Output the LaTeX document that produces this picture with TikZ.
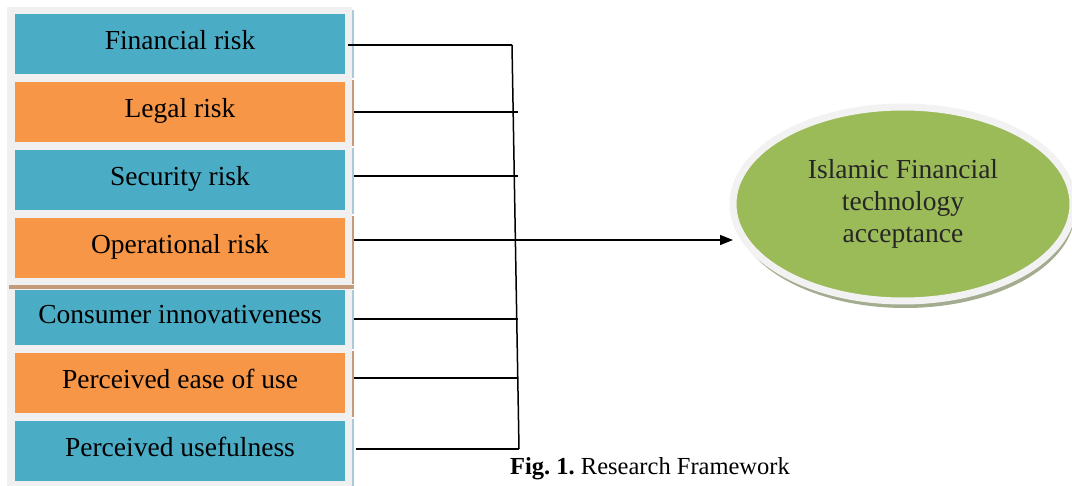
\documentclass[tikz,border=0pt]{standalone}
\usepackage{fontspec}
\setmainfont{Liberation Serif}
\usetikzlibrary{shapes.geometric,arrows.meta,shadows}
\definecolor{aquabox}{HTML}{4BACC6}
\definecolor{orangebox}{HTML}{F79646}
\definecolor{olivegreen}{HTML}{9BBB59}
\definecolor{panelgray}{HTML}{F0F0F0}
\definecolor{rimgray}{HTML}{F2F2F2}
\definecolor{shadowgreen}{HTML}{A3AC8E}
\definecolor{edgeblue}{HTML}{A9CAD8}
\definecolor{edgetan}{HTML}{C49A78}
\frenchspacing
\begin{document}
\begin{tikzpicture}[x=1pt,y=-1pt,
  factor/.style={rectangle, minimum width=330pt, minimum height=60pt, inner sep=0pt,
    text height=19pt, text depth=8.3pt,
    font=\fontsize{27.5}{32}\selectfont},
  bluebox/.style={factor, fill=aquabox},
  orangefill/.style={factor, fill=orangebox},
  conn/.style={line width=1.5pt, black},
  edgestrip/.style={line width=2pt},
]
\useasboundingbox (0,0) rectangle (1072,486);
% panel
\fill[panelgray] (7,7) rectangle (352,486);
% boxes
\node[bluebox]    (fin) at (180,44.5) {Financial risk};
\node[orangefill] (leg) at (180,112)  {Legal risk};
\node[bluebox]    (sec) at (180,180)  {Security risk};
\node[orangefill] (ope) at (180,248)  {Operational risk};
\node[bluebox, minimum height=55pt] (con) at (180,318) {Consumer innovativeness};
\node[orangefill] (eas) at (180,383)  {Perceived ease of use};
\node[bluebox]    (use) at (180,451)  {Perceived usefulness};
% separator and right edge strips
\draw[edgetan, line width=4pt] (9,287) -- (354,287);
\draw[edgestrip, edgeblue] (353,10) -- (353,78);
\draw[edgestrip, edgetan]  (353,80) -- (353,146);
\draw[edgestrip, edgeblue] (353,148) -- (353,214);
\draw[edgestrip, edgetan]  (353,216) -- (353,284);
\draw[edgestrip, edgeblue] (353,290) -- (353,349);
\draw[edgestrip, edgetan]  (353,351) -- (353,417);
\draw[edgestrip, edgeblue] (353,419) -- (353,486);
% target ellipse
\node[ellipse, minimum width=340pt, minimum height=194pt, inner sep=0pt,
      fill=olivegreen, draw=rimgray, line width=7pt,
      drop shadow={shadow xshift=2pt, shadow yshift=-7pt, fill=shadowgreen, opacity=1}]
      (ifta) at (903,204) {};
\node[align=center, text=black!85, font=\fontsize{27.5}{32}\selectfont]
      (iftatext) at ([yshift=0pt]ifta.center) {Islamic Financial\\technology\\acceptance};
% bus
\coordinate (bustop) at (512,45);
\coordinate (busbot) at (519,449);
\coordinate (tip) at (733,240);
\draw[conn] (bustop) -- (busbot);
\draw[conn] ([xshift=3pt,yshift=-0.5pt]fin.east) -- (bustop);
\draw[conn] ([xshift=9pt]leg.east) -- ++(164,0);
\draw[conn] ([xshift=9pt,yshift=4pt]sec.east) -- ++(164,0);
\draw[conn, -{Triangle[length=13pt,width=10pt]}] ([xshift=9pt,yshift=8pt]ope.east) -- (tip);
\draw[conn] ([xshift=9pt,yshift=-1pt]con.east) -- ++(164,0);
\draw[conn] ([xshift=9pt,yshift=5pt]eas.east) -- ++(164,0);
\draw[conn] ([xshift=11pt,yshift=2pt]use.east) -- (busbot);
% caption
\node[font=\fontsize{24.5}{28}\selectfont] (cap) at (650,469) {\textbf{Fig. 1.} Research Framework};
\end{tikzpicture}
\end{document}
